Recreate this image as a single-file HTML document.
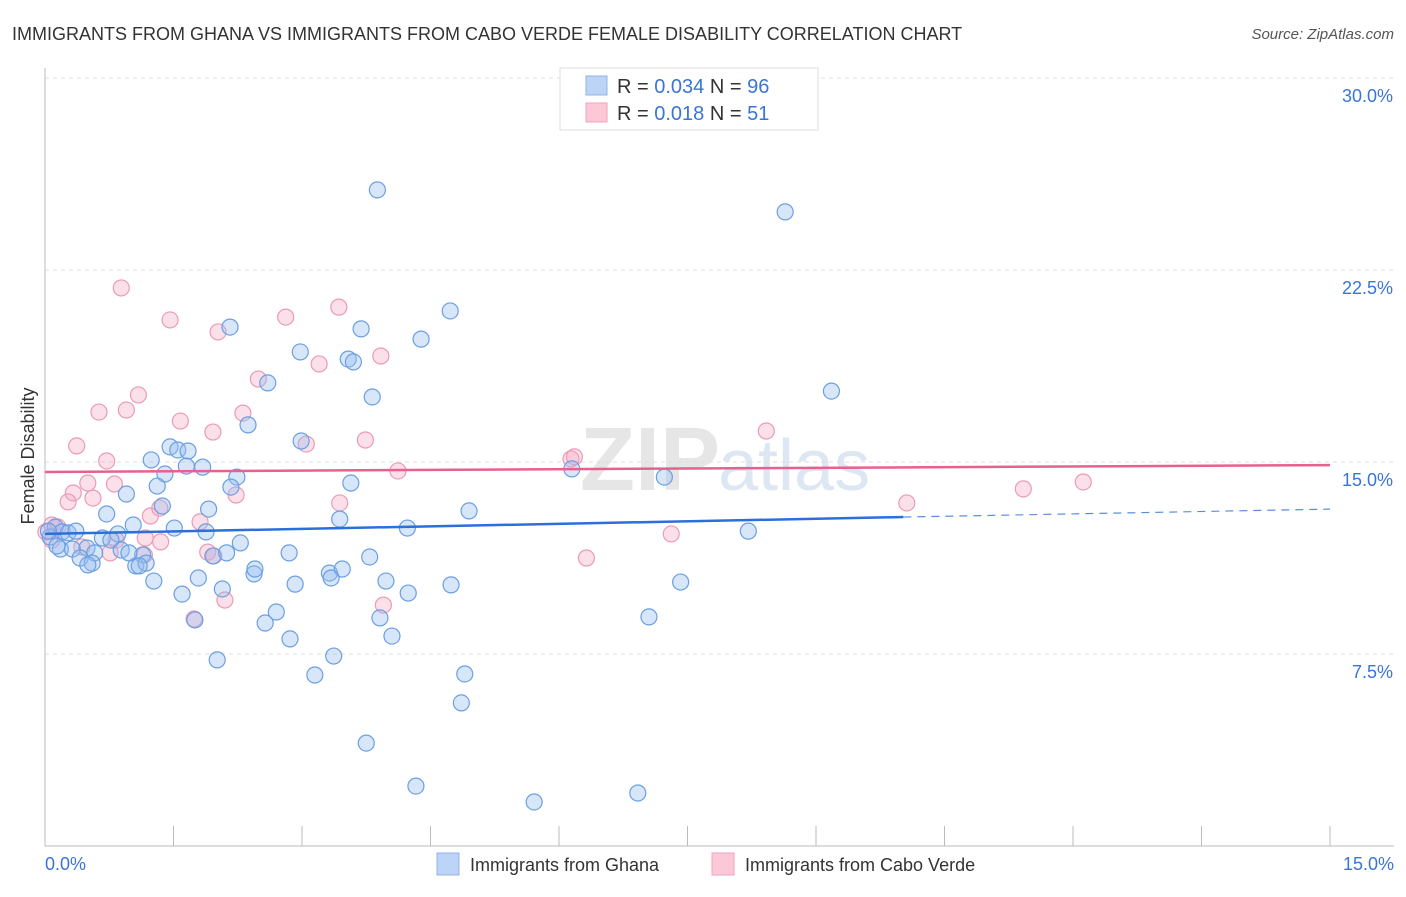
<!DOCTYPE html>
<html><head><meta charset="utf-8"><style>
body{margin:0;background:#fff;font-family:"Liberation Sans",sans-serif}
svg text{font-family:"Liberation Sans",sans-serif}
</style></head><body>
<svg id="chart" width="1406" height="892" xmlns="http://www.w3.org/2000/svg">
<text x="12" y="40" font-size="18" fill="#333">IMMIGRANTS FROM GHANA VS IMMIGRANTS FROM CABO VERDE FEMALE DISABILITY CORRELATION CHART</text>
<text x="1394" y="39" font-size="15" fill="#555" font-style="italic" text-anchor="end">Source: ZipAtlas.com</text>
<text x="720" y="490" font-size="90" fill="#e6e6e6" font-family="Liberation Serif" text-anchor="end" font-weight="bold">ZIP</text>
<text x="718" y="490" font-size="72" fill="#dde6f3">atlas</text>
<text transform="translate(34,456) rotate(-90)" font-size="18" fill="#333" text-anchor="middle">Female Disability</text>
<g id="grid"></g><g id="axes"></g><g id="pts"></g><g id="lines"></g>
<g>
<rect x="560" y="68" width="258" height="62" fill="#fff" stroke="#ddd"/>
<rect x="586" y="76" width="21" height="19" fill="#bcd4f6" stroke="#8fb3e8"/>
<rect x="586" y="103" width="21" height="19" fill="#fcc8d8" stroke="#f0a3bd"/>
<text x="617" y="93" font-size="20" fill="#333">R = <tspan fill="#3a75d6">0.034</tspan>   N = <tspan fill="#3a75d6">96</tspan></text>
<text x="617" y="120" font-size="20" fill="#333">R =  <tspan fill="#3a75d6">0.018</tspan>   N =  <tspan fill="#3a75d6">51</tspan></text>
</g>
<g>
<rect x="437" y="853" width="22" height="22" fill="#bcd4f6" stroke="#8fb3e8"/>
<text x="470" y="871" font-size="18" fill="#333">Immigrants from Ghana</text>
<rect x="712" y="853" width="22" height="22" fill="#fcc8d8" stroke="#f0a3bd"/>
<text x="745" y="871" font-size="18" fill="#333">Immigrants from Cabo Verde</text>
</g>
</svg>
<script>
const ghanaX=[3.88,8.64,4.73,2.16,3.69,4.39,2.98,3.54,3.60,2.60,9.18,3.82,2.37,1.46,2.99,1.55,1.67,1.24,1.65,1.84,1.40,2.24,6.15,7.23,1.31,2.17,3.57,0.95,1.37,1.91,4.95,0.72,3.44,1.03,4.23,8.21,1.51,1.88,0.67,0.85,0.12,0.20,0.27,0.36,0.06,0.18,0.32,0.49,0.58,0.41,0.55,0.77,0.89,1.14,1.06,1.18,1.96,2.12,2.28,2.85,3.79,0.50,1.10,1.27,1.79,2.44,2.45,3.32,3.47,3.34,3.98,4.74,7.42,2.92,1.60,2.07,4.24,1.75,2.70,2.57,3.91,4.05,7.05,2.86,2.01,3.37,3.15,4.90,4.86,3.75,4.33,5.71,6.92,0.98,0.04,0.14];
const ghanaY=[25.63,24.77,20.90,20.27,20.20,19.80,19.30,19.02,18.91,18.09,17.77,17.54,16.45,15.59,15.82,15.47,15.43,15.08,14.84,14.80,14.53,14.41,14.73,14.41,14.06,14.02,14.18,13.75,13.28,13.16,13.09,12.97,12.77,12.54,12.42,12.30,12.42,12.27,12.03,12.19,12.46,12.27,12.23,12.30,12.07,11.60,11.60,11.64,11.45,11.25,11.05,11.95,11.56,11.37,10.94,11.05,11.33,11.45,11.84,11.45,11.29,10.98,10.94,10.35,10.47,10.63,10.82,10.66,10.82,10.47,10.35,10.20,10.31,10.23,9.84,10.04,9.88,8.83,9.14,8.71,8.91,8.20,8.95,8.09,7.27,7.42,6.68,6.72,5.59,4.02,2.34,1.72,2.07,11.45,12.30,11.72];
const caboX=[0.89,1.46,3.43,2.81,2.02,3.92,3.20,2.49,1.09,0.63,0.95,1.58,2.31,1.96,0.37,3.05,3.74,0.72,8.42,6.14,4.12,0.50,0.81,0.33,0.56,0.27,2.23,3.44,10.06,11.42,12.12,1.23,1.34,1.81,0.15,0.01,0.08,0.83,1.17,1.35,0.43,0.76,1.16,1.90,1.97,7.31,6.32,1.74,2.10,3.95,6.18,0.08];
const caboY=[21.80,20.55,21.05,20.66,20.08,19.14,18.83,18.24,17.62,16.95,17.03,16.60,16.91,16.17,15.63,15.70,15.86,15.04,16.21,15.12,14.65,14.18,14.14,13.79,13.59,13.44,13.71,13.40,13.40,13.95,14.22,12.89,13.20,12.66,12.46,12.27,11.95,11.95,12.03,11.88,11.68,11.45,11.37,11.48,11.33,12.19,11.25,8.87,9.61,9.41,15.20,12.54];
const ghanaTrend=[12.19,12.85,13.16]; // at x=0, 10.02, 15
const caboTrend=[14.61,14.88];
const yTicks=[7.5,15,22.5,30];
const yTickLabels=["7.5%","15.0%","22.5%","30.0%"];
const xMax=15, yMax=30;
const NS="http://www.w3.org/2000/svg";
const X=v=>45+v*(1330-45)/xMax;
const Y=v=>846-v*(846-78)/yMax;
function mk(tag,attrs,parent){const e=document.createElementNS(NS,tag);for(const k in attrs)e.setAttribute(k,attrs[k]);parent.appendChild(e);return e;}
const grid=document.getElementById('grid'),axes=document.getElementById('axes'),pts=document.getElementById('pts'),lines=document.getElementById('lines');
yTicks.forEach((t,i)=>{
 const l=mk('line',{x1:45,x2:1394,y1:Y(t),y2:Y(t),stroke:'#ddd','stroke-dasharray':'4,4'},grid);
 
 
 const tx=mk('text',{x:1393,y:Y(t)+24,'font-size':18,fill:'#3a75d6','text-anchor':'end'},axes);
 tx.textContent=yTickLabels[i];
 
 
});
const ya=mk('line',{x1:45,x2:45,y1:68,y2:846,stroke:'#bbb'},axes);


const xa=mk('line',{x1:45,x2:1394,y1:846,y2:846,stroke:'#bbb'},axes);


for(let i=0;i<=10;i++){const t=mk('line',{x1:X(i*1.5),x2:X(i*1.5),y1:826,y2:846,stroke:'#bbb'},axes);
 
 }
const xl0=mk('text',{x:45,y:870,'font-size':18,fill:'#3a75d6'},axes);xl0.textContent='0.0%';


const xl1=mk('text',{x:1394,y:870,'font-size':18,fill:'#3a75d6','text-anchor':'end'},axes);xl1.textContent='15.0%';


caboX.forEach((v,i)=>{const c=mk('circle',{cx:X(v),cy:Y(caboY[i]),r:8,fill:'rgba(245,165,192,0.35)',stroke:'#eb9ab6','stroke-width':1.2},pts);
 
 });
ghanaX.forEach((v,i)=>{const c=mk('circle',{cx:X(v),cy:Y(ghanaY[i]),r:8,fill:'rgba(150,190,240,0.38)',stroke:'#6b9fe3','stroke-width':1.2},pts);
 
 });
const bl=mk('line',{x1:X(0),y1:Y(ghanaTrend[0]),x2:X(10.02),y2:Y(ghanaTrend[1]),stroke:'#2a6fdb','stroke-width':2.5},lines);


const bd=mk('line',{x1:X(10.02),y1:Y(ghanaTrend[1]),x2:X(15),y2:Y(ghanaTrend[2]),stroke:'#5a8fe0','stroke-width':1.2,'stroke-dasharray':'8,6'},lines);


const pl=mk('line',{x1:X(0),y1:Y(caboTrend[0]),x2:X(15),y2:Y(caboTrend[1]),stroke:'#e8608e','stroke-width':2.5},lines);


</script>
</body></html>
